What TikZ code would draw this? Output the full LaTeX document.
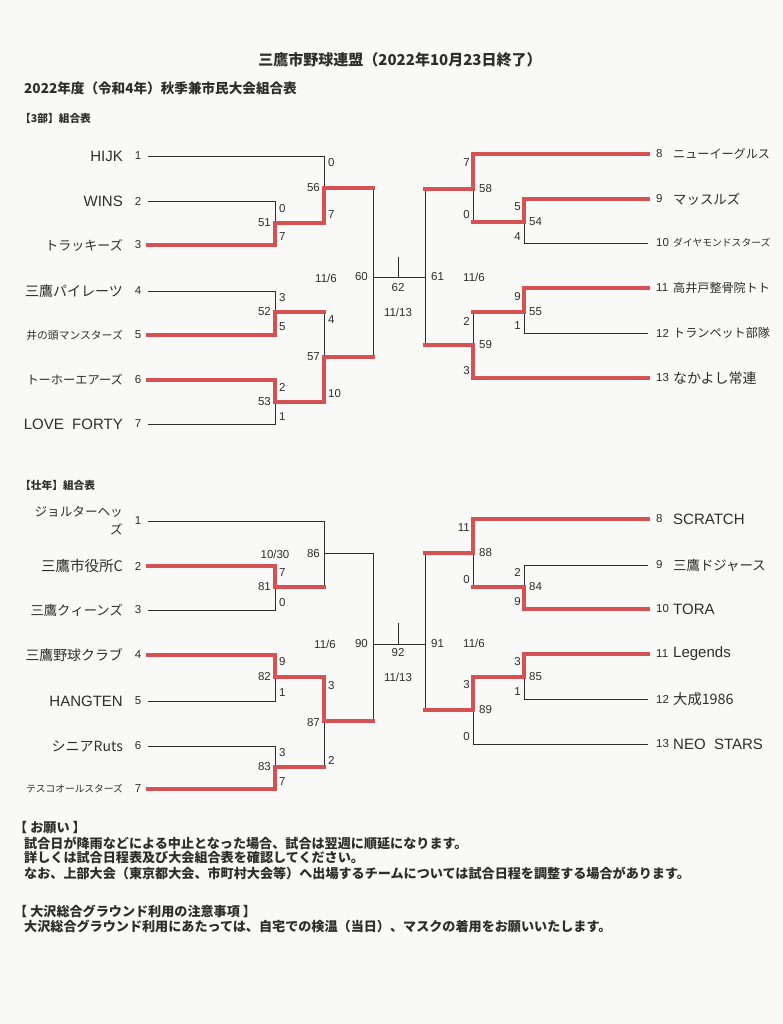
\documentclass[tikz,border=0pt]{standalone}
\usepackage{fontspec}
\setmainfont{Liberation Sans}
\newfontfamily\jp{Noto Sans CJK JP}
\definecolor{winred}{RGB}{214,82,82}
\definecolor{paper}{RGB}{249,249,247}
\definecolor{ink}{RGB}{45,45,45}

\begin{document}
\begin{tikzpicture}[x=1pt,y=-1pt,
    bline/.style={ink,line width=0.9pt},
    win/.style={winred,line width=3.6pt,line cap=rect},
    sml/.style={inner sep=0pt,text=ink,font=\fontsize{11.5}{13}\selectfont},
    lsc/.style={sml,anchor=west},
    rsc/.style={sml,anchor=east},
    lteam/.style={anchor=east,inner sep=0pt,text=ink},
    rteam/.style={anchor=west,inner sep=0pt,text=ink},
    hd/.style={anchor=west,inner sep=0pt,text=ink,font=\jp\bfseries\fontsize{#1}{#1}\selectfont},
    note/.style={anchor=west,inner sep=0pt,text=ink,font=\jp\bfseries\fontsize{13.1}{15}\selectfont}]
  \fill[paper] (0,0) rectangle (783,1024);
  \useasboundingbox (0,0) rectangle (783,1024);

  % headings
  \node[inner sep=0pt,text=ink,font=\jp\bfseries\fontsize{15}{15}\selectfont] (title) at (400,60) {三鷹市野球連盟（2022年10月23日終了）};
  \node[hd=13.6] (sub) at (24,88) {2022年度（令和4年）秋季兼市民大会組合表};
  \node[hd=10.7] (divA) at (20,118) {【3部】組合表};
  \node[hd=10.7] (divC) at (20,485) {【壮年】組合表};

  % teams, left side
  \foreach \n/\y/\fs/\nm in {1/156/15/HIJK, 2/201/15/WINS, 3/245/13/{\jp トラッキーズ},
      4/291/14/{\jp 三鷹パイレーツ}, 5/335/10.8/{\jp 井の頭マンスターズ},
      6/380/12.2/{\jp トーホーエアーズ}, 7/424/15/{LOVE\ \ FORTY}}{
    \node[sml] (nA\n) at (138,\y) {\n};
    \node[lteam,font=\fontsize{\fs}{\fs}\selectfont] (A\n) at (123,\y) {\nm};
    \coordinate (tA\n) at (148,\y);
  }
  \foreach \n/\y/\fs/\nm in {2/566/14.5/{\jp 三鷹市役所C}, 3/610/13.3/{\jp 三鷹クィーンズ},
      4/655/13.9/{\jp 三鷹野球クラブ}, 5/701/15/HANGTEN, 6/746/14/{\jp シニアRuts},
      7/789/9.7/{\jp テスコオールスターズ}}{
    \node[sml] (nC\n) at (138,\y) {\n};
    \node[lteam,font=\fontsize{\fs}{\fs}\selectfont] (C\n) at (123,\y) {\nm};
    \coordinate (tC\n) at (148,\y);
  }
  \node[sml] (nC1) at (138,521) {1};
  \node[lteam,align=right,font=\jp\fontsize{12.6}{18}\selectfont] (C1) at (123,521) {ジョルターヘッ\\ズ};
  \coordinate (tC1) at (148,521);

  % teams, right side
  \foreach \n/\y/\fs/\nm in {8/154/12.1/{\jp ニューイーグルス}, 9/199/13.4/{\jp マッスルズ},
      10/243/9.8/{\jp ダイヤモンドスターズ}, 11/288/12.1/{\jp 高井戸整骨院トト},
      12/333/12.1/{\jp トランペット部隊}, 13/378/14/{\jp なかよし常連}}{
    \node[sml,anchor=west] (nB\n) at (656,\y) {\n};
    \node[rteam,font=\fontsize{\fs}{\fs}\selectfont] (B\n) at (673,\y) {\nm};
    \coordinate (tB\n) at (648,\y);
  }
  \foreach \n/\y/\fs/\nm in {8/519/15/SCRATCH, 9/565/13.4/{\jp 三鷹ドジャース}, 10/609/15/TORA,
      11/654/15/Legends, 12/699/14.3/{\jp 大成1986}, 13/744/15/{NEO\ \ STARS}}{
    \node[sml,anchor=west] (nD\n) at (656,\y) {\n};
    \node[rteam,font=\fontsize{\fs}{\fs}\selectfont] (D\n) at (673,\y) {\nm};
    \coordinate (tD\n) at (648,\y);
  }

  % match points
  \coordinate (m51) at (275,223); \coordinate (m52) at (275,312); \coordinate (m53) at (275,402);
  \coordinate (m56) at (324,188); \coordinate (m57) at (324,357); \coordinate (m60) at (373,277);
  \coordinate (m54) at (524,222); \coordinate (m55) at (524,312);
  \coordinate (m58) at (473,189); \coordinate (m59) at (473,345); \coordinate (m61) at (425,277);
  \coordinate (m62) at (398,257);
  \coordinate (m81) at (275,587); \coordinate (m82) at (275,677); \coordinate (m83) at (275,767);
  \coordinate (m86) at (324,553); \coordinate (m87) at (324,721); \coordinate (m90) at (373,644);
  \coordinate (m84) at (524,587); \coordinate (m85) at (524,677);
  \coordinate (m88) at (473,553); \coordinate (m89) at (473,710); \coordinate (m91) at (425,644);
  \coordinate (m92) at (398,623);

  % bracket lines
  \draw[bline] (tA1) -| (m56) (tA2) -| (m51) (tA3) -| (m51) (tA4) -| (m52) (tA5) -| (m52)
    (tA6) -| (m53) (tA7) -| (m53) (m51) -| (m56) (m52) -| (m57) (m53) -| (m57)
    (m56) -| (m60) (m57) -| (m60) (m60) -- (m61) (m62) -- (m62 |- m60)
    (tB8) -| (m58) (tB9) -| (m54) (tB10) -| (m54) (tB11) -| (m55) (tB12) -| (m55)
    (tB13) -| (m59) (m54) -| (m58) (m55) -| (m59) (m58) -| (m61) (m59) -| (m61);
  \draw[bline] (tC1) -| (m86) (tC2) -| (m81) (tC3) -| (m81) (tC4) -| (m82) (tC5) -| (m82)
    (tC6) -| (m83) (tC7) -| (m83) (m81) -| (m86) (m82) -| (m87) (m83) -| (m87)
    (m86) -| (m90) (m87) -| (m90) (m90) -- (m91) (m92) -- (m92 |- m90)
    (tD8) -| (m88) (tD9) -| (m84) (tD10) -| (m84) (tD11) -| (m85) (tD12) -| (m85)
    (tD13) -| (m89) (m84) -| (m88) (m85) -| (m89) (m88) -| (m91) (m89) -| (m91);

  % winners
  \draw[win] (tA3) -| (m51) -| (m56) -- (m56 -| m60);
  \draw[win] (tA5) -| (m52) -- (m52 -| m57);
  \draw[win] (tA6) -| (m53) -| (m57) -- (m57 -| m60);
  \draw[win] (tB8) -| (m58) -- (m58 -| m61);
  \draw[win] (tB9) -| (m54) -- (m54 -| m58);
  \draw[win] (tB11) -| (m55) -- (m55 -| m59);
  \draw[win] (tB13) -| (m59) -- (m59 -| m61);
  \draw[win] (tC2) -| (m81) -- (m81 -| m86);
  \draw[win] (tC4) -| (m82) -| (m87) -- (m87 -| m90);
  \draw[win] (tC7) -| (m83) -- (m83 -| m87);
  \draw[win] (tD8) -| (m88) -- (m88 -| m91);
  \draw[win] (tD10) -| (m84) -- (m84 -| m88);
  \draw[win] (tD11) -| (m85) -| (m89) -- (m89 -| m91);

  % scores and match numbers
  \foreach \x/\y/\t in {279/209/0, 279/237/7, 328/163/0, 328/215/7, 279/298/3, 279/327/5,
      279/387/2, 279/417/1, 328/320/4, 328/394/10, 279/573/7, 279/603/0, 279/662/9,
      279/693/1, 279/753/3, 279/782/7, 328/686/3, 328/760/2,
      479/189/58, 529/222/54, 529/312/55, 479/345/59, 479/553/88, 529/587/84,
      529/677/85, 479/710/89, 431/277/61, 431/644/91}
    \node[lsc] (s\x-\y) at (\x,\y) {\t};
  \foreach \x/\y/\t in {470/163/7, 470/215/0, 521/207/5, 521/237/4, 521/297/9, 521/326/1,
      470/321/2, 470/371/3, 470/528/11, 470/580/0, 521/572/2, 521/602/9, 521/662/3,
      521/692/1, 470/685/3, 470/737/0,
      271/223/51, 320/188/56, 271/312/52, 271/402/53, 320/357/57, 271/587/81,
      320/554/86, 271/677/82, 271/767/83, 320/723/87, 368/277/60, 368/644/90}
    \node[rsc] (s\x-\y) at (\x,\y) {\t};
  \node[sml] (dA1) at (326,278) {11/6};
  \node[sml] (dA2) at (474,277) {11/6};
  \node[sml] (fA) at (398,288) {62};
  \node[sml] (dA3) at (398,312) {11/13};
  \node[sml] (dC0) at (275,554) {10/30};
  \node[sml] (dC1) at (325,644) {11/6};
  \node[sml] (dC2) at (474,643) {11/6};
  \node[sml] (fC) at (398,653) {92};
  \node[sml] (dC3) at (398,677) {11/13};

  % notes
  \foreach \y/\t in {828/【 お願い 】, 911/【 大沢総合グラウンド利用の注意事項 】}
    \node[note] (h\y) at (14,\y) {\t};
  \foreach \y/\t in {843/試合日が降雨などによる中止となった場合、試合は翌週に順延になります。,
      858/詳しくは試合日程表及び大会組合表を確認してください。,
      873/なお、上部大会（東京都大会、市町村大会等）へ出場するチームについては試合日程を調整する場合があります。,
      926/大沢総合グラウンド利用にあたっては、自宅での検温（当日）、マスクの着用をお願いいたします。}
    \node[note] (l\y) at (24,\y) {\t};
\end{tikzpicture}
\end{document}
